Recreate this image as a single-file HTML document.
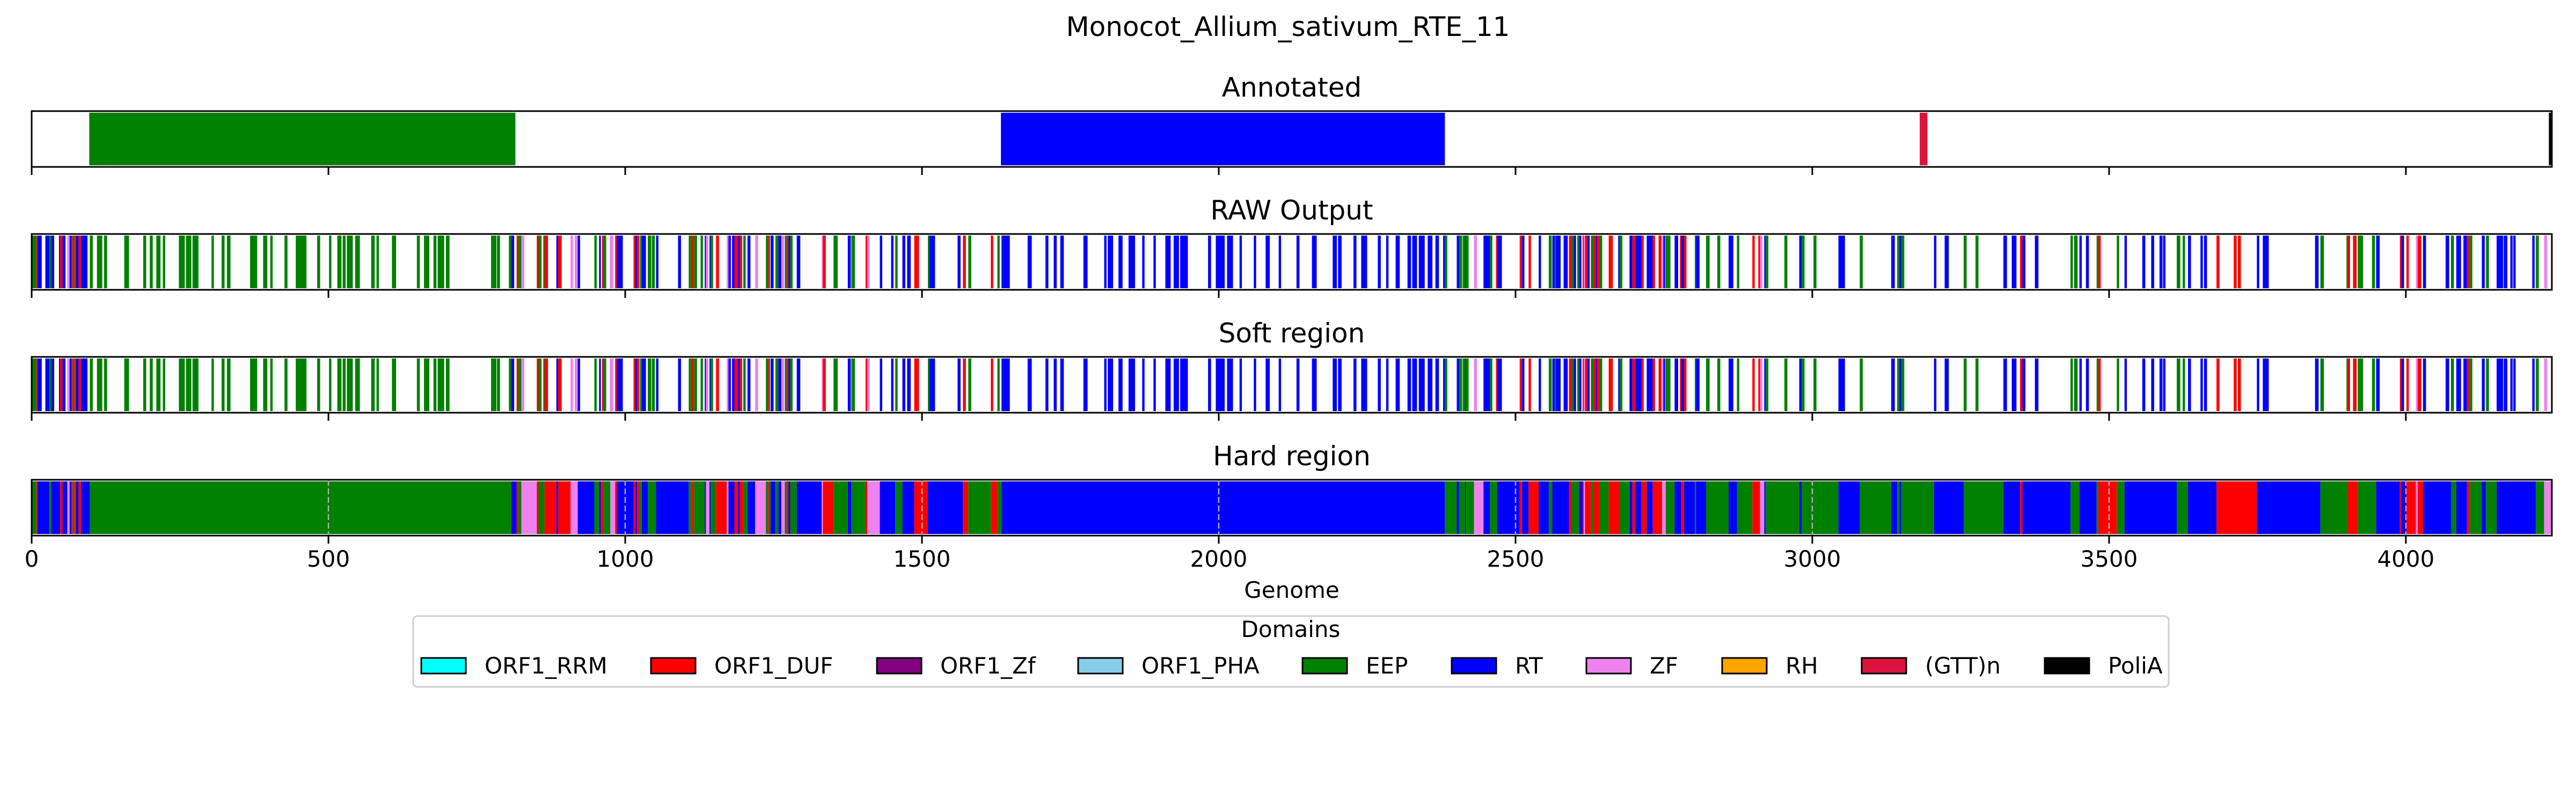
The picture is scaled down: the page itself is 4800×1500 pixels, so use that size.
<!DOCTYPE html>
<html>
<head>
<meta charset="utf-8">
<style>
html,body{margin:0;padding:0;background:#fff;}
svg{display:block;font-family:"DejaVu Sans","Liberation Sans",sans-serif;}
</style>
</head>
<body>
<svg id="fig" xmlns="http://www.w3.org/2000/svg" width="4800" height="1500" viewBox="0 0 4800 1500">
<rect x="0" y="0" width="4800" height="1500" fill="#fff"/>
<text x="2400" y="67" font-size="50" text-anchor="middle">Monocot_Allium_sativum_RTE_11</text>
<g id="panels"></g>
<text x="2407" y="1114" font-size="42" text-anchor="middle">Genome</text>
<g id="legend"></g>
</svg>
<script>
// ---- data ----
const xTicks = [0, 500, 1000, 1500, 2000, 2500, 3000, 3500, 4000];
const genomeLength = 4246;
const panelTitles = ["Annotated", "RAW Output", "Soft region", "Hard region"];
const domainNames = ["ORF1_RRM","ORF1_DUF","ORF1_Zf","ORF1_PHA","EEP","RT","ZF","RH","(GTT)n","PoliA"];
const domainColors = ["#00ffff","#ff0000","#800080","#87ceeb","#008000","#0000ff","#ee82ee","#ffa500","#dc143c","#000000"];

const annotatedSegments = [[97,815,"EEP"],[1633,2381,"RT"],[3181,3194,"(GTT)n"],[4241,4246,"PoliA"]];

const rawSegments = [
[1,8,"EEP"],[8,10,"ORF1_DUF"],[10,17,"RT"],[23,30,"RT"],[30,33,"EEP"],[33,38,"RT"],[46,48,"RT"],[48,52,"ORF1_DUF"],[52,57,"RT"],[60,64,"ZF"],[64,67,"RT"],[67,69,"ORF1_DUF"],[69,71,"EEP"],[71,73,"ORF1_DUF"],[73,75,"EEP"],[75,79,"RT"],[79,83,"ORF1_DUF"],[83,94,"RT"],[98,103,"EEP"],[110,119,"EEP"],[122,127,"EEP"],[156,164,"EEP"],[188,193,"EEP"],[199,204,"EEP"],[210,217,"EEP"],[221,225,"EEP"],[248,258,"EEP"],[260,269,"EEP"],[271,281,"EEP"],[303,307,"EEP"],[320,325,"EEP"],[329,335,"EEP"],[368,380,"EEP"],[390,397,"EEP"],[402,406,"EEP"],[426,431,"EEP"],[445,463,"EEP"],[481,486,"EEP"],[501,505,"EEP"],[515,522,"EEP"],[524,529,"EEP"],[531,541,"EEP"],[545,553,"EEP"],[572,578,"EEP"],[581,585,"EEP"],[607,614,"EEP"],[649,654,"EEP"],[661,670,"EEP"],[677,682,"EEP"],[684,695,"EEP"],[698,704,"EEP"],
[774,783,"EEP"],[784,789,"EEP"],[804,808,"EEP"],[808,813,"RT"],[817,820,"ORF1_DUF"],[820,825,"EEP"],[825,830,"ZF"],[851,854,"ORF1_DUF"],[854,859,"EEP"],[862,864,"EEP"],[864,870,"ORF1_DUF"],[884,887,"RT"],[887,893,"ORF1_DUF"],[908,912,"ZF"],[915,920,"ZF"],[920,924,"RT"],[948,952,"EEP"],[956,959,"RT"],[961,963,"ORF1_DUF"],[963,968,"EEP"],[974,980,"ZF"],[983,986,"ORF1_DUF"],[986,996,"RT"],[1014,1017,"ORF1_DUF"],[1017,1020,"RT"],[1020,1024,"ORF1_DUF"],[1025,1028,"EEP"],[1028,1035,"RT"],[1038,1044,"EEP"],[1045,1050,"EEP"],[1052,1056,"RT"],[1089,1094,"RT"],[1107,1111,"EEP"],[1111,1116,"ORF1_DUF"],[1116,1121,"EEP"],[1127,1131,"EEP"],[1134,1136,"RT"],[1136,1140,"ZF"],[1142,1144,"RT"],[1144,1148,"EEP"],[1153,1158,"ORF1_DUF"],[1171,1174,"ZF"],[1174,1178,"RT"],[1180,1184,"RT"],[1184,1190,"ORF1_DUF"],[1190,1193,"RT"],[1193,1197,"ORF1_DUF"],[1199,1203,"EEP"],[1206,1211,"RT"],[1219,1224,"ZF"],[1237,1240,"EEP"],[1240,1242,"ORF1_DUF"],[1242,1244,"EEP"],[1245,1250,"RT"],[1253,1258,"EEP"],[1258,1263,"RT"],[1263,1268,"ZF"],[1269,1272,"EEP"],[1272,1275,"ORF1_DUF"],[1275,1278,"RT"],[1278,1282,"EEP"],[1289,1295,"RT"],[1331,1333,"ZF"],[1333,1338,"ORF1_DUF"],[1351,1358,"EEP"],[1375,1380,"RT"],[1381,1387,"EEP"],[1405,1408,"ORF1_DUF"],[1408,1412,"ZF"],[1429,1433,"RT"],
[1448,1452,"RT"],[1455,1459,"EEP"],[1467,1472,"RT"],[1475,1481,"RT"],[1487,1495,"ORF1_DUF"],[1510,1512,"EEP"],[1512,1522,"RT"],[1560,1565,"RT"],[1569,1574,"ORF1_DUF"],[1578,1583,"EEP"],[1616,1620,"ORF1_DUF"],[1627,1631,"EEP"],[1634,1648,"RT"],[1678,1685,"RT"],[1708,1713,"RT"],[1722,1727,"RT"],[1733,1739,"RT"],[1772,1779,"RT"],[1807,1811,"RT"],[1813,1822,"RT"],[1831,1838,"RT"],[1848,1859,"RT"],[1871,1875,"RT"],[1890,1894,"RT"],[1910,1919,"RT"],[1924,1933,"RT"],[1935,1948,"RT"],[1982,1987,"RT"],[1995,2010,"RT"],[2014,2024,"RT"],[2035,2039,"RT"],[2059,2063,"RT"],[2079,2086,"RT"],[2101,2105,"RT"],[2131,2136,"RT"],[2157,2165,"RT"],
[2192,2199,"RT"],[2201,2207,"RT"],[2227,2232,"RT"],[2240,2250,"RT"],[2268,2273,"RT"],[2282,2286,"RT"],[2298,2305,"RT"],[2318,2324,"RT"],[2326,2334,"RT"],[2337,2347,"RT"],[2352,2360,"RT"],[2365,2371,"RT"],[2378,2381,"RT"],[2381,2385,"EEP"],[2401,2405,"RT"],[2405,2410,"EEP"],[2411,2415,"EEP"],[2415,2416,"RT"],[2416,2421,"EEP"],[2430,2435,"ZF"],[2446,2457,"RT"],[2457,2461,"EEP"],[2467,2469,"ORF1_DUF"],[2469,2477,"RT"],[2507,2511,"ORF1_DUF"],[2511,2515,"RT"],[2522,2526,"ORF1_DUF"],[2539,2543,"RT"],[2556,2561,"EEP"],[2562,2566,"RT"],[2566,2568,"EEP"],[2568,2576,"RT"],[2581,2588,"RT"],[2590,2595,"ORF1_DUF"],[2595,2598,"EEP"],[2598,2602,"RT"],[2604,2607,"EEP"],[2607,2611,"RT"],[2613,2615,"ORF1_DUF"],[2615,2617,"ZF"],[2617,2621,"ORF1_DUF"],[2621,2625,"RT"],[2627,2632,"EEP"],[2632,2635,"ORF1_DUF"],[2635,2637,"RT"],[2637,2641,"ORF1_DUF"],[2641,2646,"EEP"],[2657,2664,"ORF1_DUF"],[2673,2675,"RT"],[2675,2680,"EEP"],[2692,2697,"RT"],[2697,2702,"ORF1_DUF"],[2702,2712,"RT"],[2712,2716,"ORF1_DUF"],[2721,2731,"RT"],[2731,2735,"ORF1_DUF"],[2741,2746,"ORF1_DUF"],[2747,2749,"ZF"],[2749,2752,"RT"],[2752,2753,"ZF"],[2753,2761,"EEP"],[2768,2774,"RT"],[2777,2779,"ORF1_DUF"],[2779,2784,"RT"],[2784,2788,"ORF1_DUF"],[2802,2804,"EEP"],[2804,2810,"RT"],[2821,2827,"EEP"],[2840,2845,"EEP"],[2859,2867,"RT"],[2873,2877,"EEP"],
[2899,2903,"ORF1_DUF"],[2909,2912,"ORF1_DUF"],[2912,2916,"ZF"],[2919,2921,"RT"],[2921,2926,"EEP"],[2953,2958,"EEP"],[2978,2982,"RT"],[2982,2987,"EEP"],[3002,3007,"EEP"],[3044,3055,"RT"],[3080,3085,"EEP"],[3133,3139,"RT"],[3143,3147,"EEP"],[3147,3150,"RT"],[3150,3155,"EEP"],[3205,3209,"RT"],[3223,3230,"RT"],[3255,3260,"EEP"],[3275,3280,"EEP"],[3322,3328,"RT"],[3336,3344,"RT"],[3350,3354,"ORF1_DUF"],[3354,3359,"RT"],[3375,3381,"RT"],[3435,3439,"EEP"],[3441,3447,"EEP"],[3450,3454,"RT"],[3461,3466,"RT"],[3479,3482,"EEP"],[3482,3486,"ORF1_DUF"],[3513,3517,"EEP"],[3526,3530,"RT"],[3556,3561,"RT"],[3571,3576,"RT"],[3585,3590,"RT"],[3591,3595,"RT"],
[3614,3620,"EEP"],[3624,3628,"EEP"],[3633,3638,"RT"],[3654,3658,"RT"],[3660,3665,"RT"],[3681,3686,"ORF1_DUF"],[3710,3715,"ORF1_DUF"],[3717,3722,"ORF1_DUF"],[3749,3753,"RT"],[3759,3769,"RT"],[3847,3853,"RT"],[3856,3862,"EEP"],[3900,3902,"EEP"],[3902,3906,"ORF1_DUF"],[3911,3917,"ORF1_DUF"],[3919,3928,"EEP"],[3943,3948,"EEP"],[3950,3956,"RT"],[3990,3992,"ORF1_DUF"],[3992,3997,"RT"],[4001,4005,"ORF1_DUF"],[4017,4020,"ZF"],[4020,4026,"ORF1_DUF"],[4029,4034,"RT"],[4067,4073,"RT"],[4076,4081,"EEP"],[4085,4093,"RT"],[4097,4103,"RT"],[4103,4108,"ORF1_DUF"],[4108,4112,"EEP"],[4128,4133,"RT"],[4135,4140,"EEP"],[4153,4164,"RT"],[4165,4171,"RT"],[4176,4180,"RT"],[4181,4185,"RT"],[4213,4217,"RT"],[4219,4224,"EEP"],[4233,4238,"ZF"]
];

const softSegments = rawSegments;

const hardSegments = [
[0,8,"EEP"],[8,10,"ORF1_DUF"],[10,30,"RT"],[30,33,"EEP"],[33,48,"RT"],[48,52,"ORF1_DUF"],[52,60,"RT"],[60,64,"ZF"],[64,67,"RT"],[67,69,"ORF1_DUF"],[69,71,"EEP"],[71,73,"ORF1_DUF"],[73,75,"EEP"],[75,79,"RT"],[79,83,"ORF1_DUF"],[83,98,"RT"],[98,808,"EEP"],[808,817,"RT"],[817,820,"ORF1_DUF"],[820,825,"EEP"],[825,851,"ZF"],[851,854,"ORF1_DUF"],[854,864,"EEP"],[864,884,"ORF1_DUF"],[884,887,"RT"],[887,908,"ORF1_DUF"],[908,920,"ZF"],[920,948,"RT"],[948,956,"EEP"],[956,959,"RT"],[959,963,"ORF1_DUF"],[963,975,"EEP"],[975,983,"ZF"],[983,986,"ORF1_DUF"],[986,1014,"RT"],[1014,1017,"ORF1_DUF"],[1017,1020,"RT"],[1020,1024,"ORF1_DUF"],[1024,1028,"EEP"],[1028,1038,"RT"],[1038,1052,"EEP"],[1052,1107,"RT"],[1107,1111,"EEP"],[1111,1116,"ORF1_DUF"],[1116,1134,"EEP"],[1134,1136,"RT"],[1136,1142,"ZF"],[1142,1144,"RT"],[1144,1153,"EEP"],[1153,1171,"ORF1_DUF"],[1171,1174,"ZF"],[1174,1184,"RT"],[1184,1190,"ORF1_DUF"],[1190,1193,"RT"],[1193,1199,"ORF1_DUF"],[1199,1206,"EEP"],[1206,1219,"RT"],[1219,1237,"ZF"],[1237,1240,"EEP"],[1240,1242,"ORF1_DUF"],[1242,1245,"EEP"],[1245,1253,"RT"],[1253,1258,"EEP"],[1258,1263,"RT"],[1263,1269,"ZF"],[1269,1272,"EEP"],[1272,1275,"ORF1_DUF"],[1275,1278,"RT"],[1278,1289,"EEP"],[1289,1331,"RT"],[1331,1333,"ZF"],[1333,1351,"ORF1_DUF"],[1351,1375,"EEP"],[1375,1381,"RT"],[1381,1405,"EEP"],[1405,1408,"ORF1_DUF"],[1408,1429,"ZF"],[1429,1455,"RT"],[1455,1467,"EEP"],[1467,1487,"RT"],[1487,1510,"ORF1_DUF"],[1510,1569,"RT"],[1569,1578,"ORF1_DUF"],[1578,1616,"EEP"],[1616,1627,"ORF1_DUF"],[1627,1634,"EEP"],[1634,2381,"RT"],[2381,2401,"EEP"],[2401,2405,"RT"],[2405,2415,"EEP"],[2415,2416,"RT"],[2416,2430,"EEP"],[2430,2446,"ZF"],[2446,2457,"RT"],[2457,2469,"EEP"],[2469,2507,"RT"],[2507,2511,"ORF1_DUF"],[2511,2522,"RT"],[2522,2539,"ORF1_DUF"],[2539,2556,"RT"],[2556,2562,"EEP"],[2562,2590,"RT"],[2590,2595,"ORF1_DUF"],[2595,2607,"EEP"],[2607,2613,"RT"],[2613,2615,"ORF1_DUF"],[2615,2617,"ZF"],[2617,2627,"ORF1_DUF"],[2627,2632,"EEP"],[2632,2641,"ORF1_DUF"],[2641,2657,"EEP"],[2657,2675,"ORF1_DUF"],[2675,2692,"EEP"],[2692,2697,"RT"],[2697,2702,"ORF1_DUF"],[2702,2712,"RT"],[2712,2721,"ORF1_DUF"],[2721,2731,"RT"],[2731,2747,"ORF1_DUF"],[2747,2753,"ZF"],[2753,2768,"EEP"],[2768,2779,"RT"],[2779,2784,"ORF1_DUF"],[2784,2802,"RT"],[2802,2804,"EEP"],[2804,2821,"RT"],[2821,2859,"EEP"],[2859,2873,"RT"],[2873,2899,"EEP"],[2899,2912,"ORF1_DUF"],[2912,2919,"ZF"],[2919,2921,"RT"],[2921,2978,"EEP"],[2978,2982,"RT"],[2982,3044,"EEP"],[3044,3080,"RT"],[3080,3133,"EEP"],[3133,3143,"RT"],[3143,3147,"EEP"],[3147,3150,"RT"],[3150,3205,"EEP"],[3205,3255,"RT"],[3255,3322,"EEP"],[3322,3350,"RT"],[3350,3354,"ORF1_DUF"],[3354,3435,"RT"],[3435,3450,"EEP"],[3450,3479,"RT"],[3479,3482,"EEP"],[3482,3513,"ORF1_DUF"],[3513,3526,"EEP"],[3526,3614,"RT"],[3614,3633,"EEP"],[3633,3681,"RT"],[3681,3749,"ORF1_DUF"],[3749,3856,"RT"],[3856,3902,"EEP"],[3902,3919,"ORF1_DUF"],[3919,3950,"EEP"],[3950,3990,"RT"],[3990,3992,"ORF1_DUF"],[3992,4001,"RT"],[4001,4017,"ORF1_DUF"],[4017,4020,"ZF"],[4020,4029,"ORF1_DUF"],[4029,4076,"RT"],[4076,4085,"EEP"],[4085,4103,"RT"],[4103,4108,"ORF1_DUF"],[4108,4128,"EEP"],[4128,4135,"RT"],[4135,4153,"EEP"],[4153,4219,"RT"],[4219,4233,"EEP"],[4233,4245,"ZF"]
];

// ---- layout / scales ----
const NS = "http://www.w3.org/2000/svg";
const plotLeft = 59, plotRight = 4755;
const panelTops = [207, 436, 665, 894];
const panelH = 104;
function xScale(v){ return plotLeft + (v / genomeLength) * (plotRight - plotLeft); }
function colorOf(name){ return domainColors[domainNames.indexOf(name)]; }
function mk(tag, attrs){ const e = document.createElementNS(NS, tag); for (const k in attrs) e.setAttribute(k, attrs[k]); return e; }

const panelsG = document.getElementById("panels");
const allSegments = [annotatedSegments, rawSegments, softSegments, hardSegments];
const panelKeys = ["annotated", "raw-output", "soft-region", "hard-region"];

panelTitles.forEach(function(title, i){
  const top = panelTops[i];
  const g = mk("g", {});
  
  
  panelsG.appendChild(g);

  const t = mk("text", {x: (plotLeft+plotRight)/2, y: top - 27, "font-size": 50, "text-anchor": "middle"});
  t.textContent = title;
  
  
  g.appendChild(t);

  allSegments[i].forEach(function(seg){
    const x0 = xScale(seg[0]), x1 = xScale(seg[1]);
    const r = mk("rect", {x: x0, y: top + 3, width: Math.max(x1 - x0, 1), height: panelH - 6, fill: colorOf(seg[2])});
    
    
    g.appendChild(r);
  });

  if (i === 3) {
    xTicks.forEach(function(tv){
      const gl = mk("line", {x1: xScale(tv), x2: xScale(tv), y1: top, y2: top + panelH, stroke: "#b0b0b0", "stroke-width": 2.5, "stroke-dasharray": "11,5"});
      
      
      g.appendChild(gl);
    });
  }

  const frame = mk("rect", {x: plotLeft, y: top, width: plotRight - plotLeft, height: panelH, fill: "none", stroke: "#000", "stroke-width": 3});
  
  
  g.appendChild(frame);

  xTicks.forEach(function(tv){
    const tk = mk("line", {x1: xScale(tv), x2: xScale(tv), y1: top + panelH, y2: top + panelH + 15, stroke: "#000", "stroke-width": 3});
    
    
    g.appendChild(tk);
    if (i === 3) {
      const tl = mk("text", {x: xScale(tv), y: top + panelH + 58, "font-size": 42, "text-anchor": "middle"});
      tl.textContent = String(tv);
      
      
      g.appendChild(tl);
    }
  });
});

// ---- legend ----
const legendG = document.getElementById("legend");


const box = mk("rect", {x: 770, y: 1148, width: 3271, height: 132, rx: 8, fill: "#fff", stroke: "#d0d0d0", "stroke-width": 3});


legendG.appendChild(box);
const lt = mk("text", {x: 2405, y: 1187, "font-size": 42, "text-anchor": "middle"});
lt.textContent = "Domains";


legendG.appendChild(lt);
const legendX = [785, 1213, 1634, 2009, 2427, 2705, 2956, 3209, 3469, 3810];
domainNames.forEach(function(name, k){
  const eg = mk("g", {});
  
  
  legendG.appendChild(eg);
  const p = mk("rect", {x: legendX[k], y: 1226, width: 83, height: 29, fill: domainColors[k], stroke: "#000", "stroke-width": 3});
  
  
  eg.appendChild(p);
  const tx = mk("text", {x: legendX[k] + 118, y: 1255, "font-size": 42});
  tx.textContent = name;
  
  
  eg.appendChild(tx);
});
</script>
</body>
</html>
